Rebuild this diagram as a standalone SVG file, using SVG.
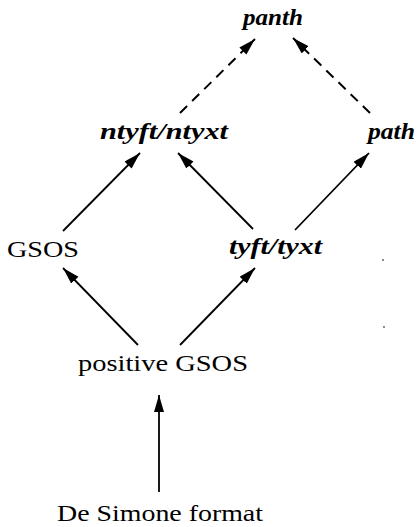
<svg xmlns="http://www.w3.org/2000/svg" width="417" height="527" viewBox="0 0 417 527">
<style>
.it{font-family:"Liberation Serif","Times New Roman",serif;font-style:italic;font-weight:bold;font-size:23px;fill:#000}
.rm{font-family:"Liberation Serif","Times New Roman",serif;font-size:24px;fill:#000}
.e{stroke:#000;stroke-width:1.8;fill:none;marker-end:url(#ah)}
.d{stroke-dasharray:10 7;stroke-width:2}
</style>
<defs>
<marker id="ah" markerUnits="userSpaceOnUse" markerWidth="20" markerHeight="12" refX="17" refY="5" orient="auto">
<path d="M0,0 L17,5 L0,10 z" fill="#000"/>
</marker>
</defs>
<rect width="417" height="527" fill="#fff"/>
<g id="connectors">
<line class="e d" x1="180" y1="113" x2="255" y2="39"/>
<line class="e d" x1="370" y1="113" x2="293" y2="38"/>
<line class="e" x1="63" y1="231" x2="140" y2="153"/>
<line class="e" x1="253" y1="229" x2="178" y2="153"/>
<line class="e" x1="295" y1="230" x2="369" y2="153"/>
<line class="e" x1="138" y1="345" x2="63" y2="268"/>
<line class="e" x1="180" y1="345" x2="255" y2="268"/>
<line class="e" x1="159" y1="492" x2="159" y2="395"/>
</g>
<g id="panth"><text class="it" x="243" y="25" textLength="60" lengthAdjust="spacingAndGlyphs">panth</text></g>
<g id="ntyft"><text class="it" x="100" y="139" textLength="128" lengthAdjust="spacingAndGlyphs">ntyft/ntyxt</text></g>
<g id="path"><text class="it" x="368" y="139" textLength="47" lengthAdjust="spacingAndGlyphs">path</text></g>
<g id="gsos"><text class="rm" x="7" y="257" textLength="72" lengthAdjust="spacingAndGlyphs">GSOS</text></g>
<g id="tyft"><text class="it" x="229" y="254" textLength="93" lengthAdjust="spacingAndGlyphs">tyft/tyxt</text></g>
<g id="positive"><text class="rm" x="78" y="371" textLength="170" lengthAdjust="spacingAndGlyphs">positive GSOS</text></g>
<g id="desimone"><text class="rm" x="57" y="521" font-size="23" textLength="206" lengthAdjust="spacingAndGlyphs">De Simone format</text></g>
<circle cx="383" cy="260" r="0.9" fill="#555"/>
<circle cx="384" cy="327" r="0.9" fill="#555"/>
</svg>
